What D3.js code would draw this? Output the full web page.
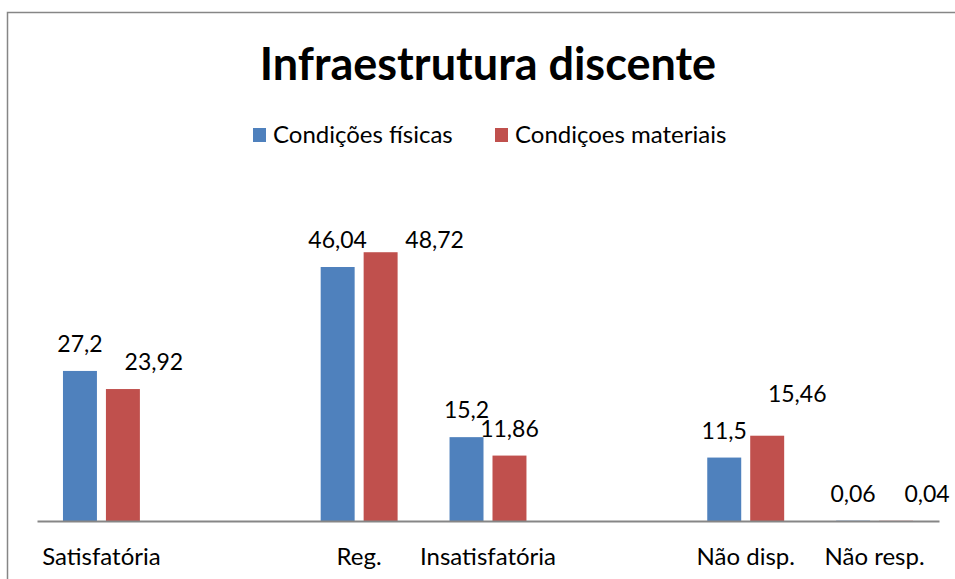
<!DOCTYPE html>
<html>
<head>
<meta charset="utf-8">
<script src="https://cdn.jsdelivr.net/npm/d3@7"></script>
<style>
  body { margin: 0; background: #fff; }
  text { font-family: Lato, "Open Sans", sans-serif; fill: #000; }
</style>
</head>
<body>
<svg id="chart"></svg>
<script>
// data (empty categories are blank slots in the original)
const categories = ['Satisfatória', '', 'Reg.', 'Insatisfatória', '', 'Não disp.', 'Não resp.'];
const seriesNames = ['Condições físicas', 'Condiçoes materiais'];
const fisicas = [27.2, null, 46.04, 15.2, null, 11.5, 0.06];
const materiais = [23.92, null, 48.72, 11.86, null, 15.46, 0.04];
const colors = ['#4F81BD', '#C0504D'];

// manual label nudges [dx, dy] the original author dragged some labels around
const labelNudge = [
    [[0, 0], null, [0, 0], [0, 0], null, [0, 0], [0, 0]],
    [[31, 0], null, [54, 15], [0, 0], null, [30, -15], [31, 0]]
];

const width = 955, height = 579;
const svg = d3.select('#chart')
    .attr('width', width)
    .attr('height', height);

// chart frame
svg.append('rect')
    .attr('x', 7.5)
    .attr('y', 12.5)
    .attr('width', 1000)
    .attr('height', 1000)
    .attr('fill', 'none')
    .attr('stroke', '#868686')
    .attr('stroke-width', 1.5);

svg.append('text')
    .attr('x', 488)
    .attr('y', 80)
    .attr('text-anchor', 'middle')
    .style('font-size', '45px')
    .style('font-weight', 'bold')
    .text('Infraestrutura discente');

// legend
const legendX = [253, 495];
const legend = svg.append('g').attr('class', 'legend');
legend.selectAll('rect')
    .data(seriesNames)
    .enter()
    .append('rect')
    .attr('x', (d, i) => legendX[i])
    .attr('y', 128)
    .attr('width', 13)
    .attr('height', 14)
    .attr('fill', (d, i) => colors[i]);
legend.selectAll('text')
    .data(seriesNames)
    .enter()
    .append('text')
    .attr('x', (d, i) => legendX[i] + 20)
    .attr('y', 143)
    .style('font-size', '24px')
    .text(d => d);

const x0 = d3.scaleBand()
    .domain(d3.range(categories.length))
    .range([37, 939]);

const x1 = d3.scaleBand()
    .domain([0, 1])
    .range([0, x0.bandwidth()])
    .paddingInner(9 / 43)
    .paddingOuter(0.6045);

const y = d3.scaleLinear()
    .domain([0, 60])
    .range([521, 190]);

const fmt = v => String(v).replace('.', ',');

const rows = [];
[fisicas, materiais].forEach((vals, s) => {
    vals.forEach((v, i) => {
        if (v != null) rows.push({ s: s, i: i, v: v, nudge: labelNudge[s][i] });
    });
});

const plot = svg.append('g').attr('class', 'bars');

plot.selectAll('rect')
    .data(rows)
    .enter()
    .append('rect')
    .attr('x', d => x0(d.i) + x1(d.s))
    .attr('y', d => y(d.v))
    .attr('width', x1.bandwidth())
    .attr('height', d => y(0) - y(d.v))
    .attr('fill', d => colors[d.s]);

// x axis line + category labels
const xAxis = svg.append('g')
    .attr('transform', `translate(0,${y(0)})`)
    .call(d3.axisBottom(x0).tickSize(0).tickPadding(27).tickFormat(i => categories[i]));
xAxis.select('.domain')
    .attr('stroke', '#868686')
    .attr('stroke-width', 2);
xAxis.selectAll('.tick text')
    .style('font-size', '24px')
    .style('font-family', 'Lato, "Open Sans", sans-serif')
    .attr('fill', '#000');

plot.selectAll('text')
    .data(rows)
    .enter()
    .append('text')
    .attr('x', d => x0(d.i) + x1(d.s) + x1.bandwidth() / 2 + d.nudge[0])
    .attr('y', d => y(d.v) - 19 + d.nudge[1])
    .attr('text-anchor', 'middle')
    .style('font-size', '23px')
    .text(d => fmt(d.v));
</script>
</body>
</html>
